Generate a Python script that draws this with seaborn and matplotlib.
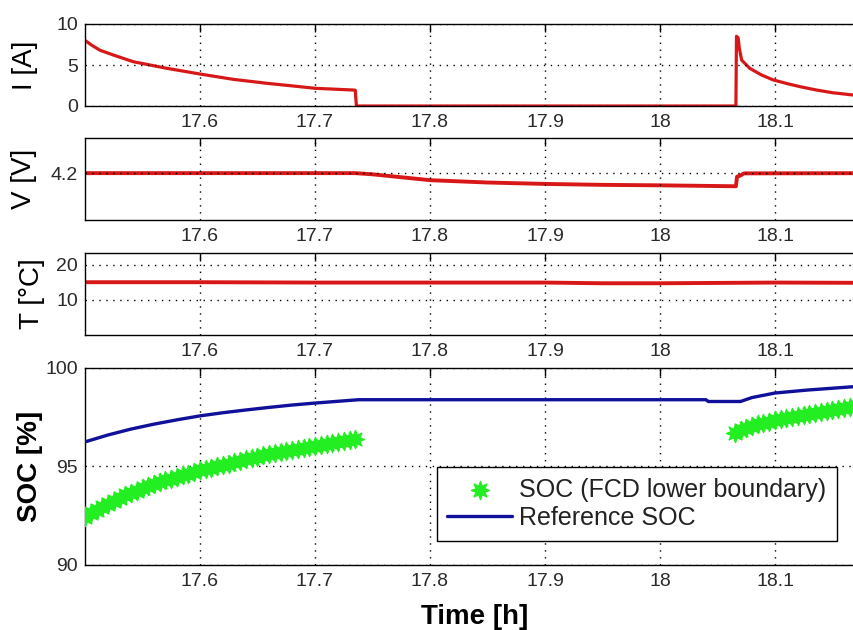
import matplotlib
matplotlib.use("Agg")
import matplotlib.pyplot as plt
import numpy as np
import pandas as pd
import seaborn as sns

# ---------------- data ----------------
time_I = [17.500, 17.506, 17.513, 17.525, 17.542, 17.571, 17.600, 17.629, 17.658,
          17.681, 17.700, 17.733, 17.735, 17.736, 18.066, 18.0665, 18.068, 18.069,
          18.071, 18.078, 18.088, 18.098, 18.110, 18.122, 18.136, 18.150, 18.168, 18.200]
current_A = [8.0, 7.4, 6.8, 6.2, 5.4, 4.6, 3.9, 3.25, 2.77,
             2.44, 2.16, 1.95, 1.93, 0.0, 0.0, 8.5, 8.3, 7.0,
             5.6, 4.6, 3.8, 3.2, 2.75, 2.35, 1.95, 1.62, 1.34, 1.05]

time_V = [17.500, 17.735, 17.750, 17.770, 17.800, 17.850, 17.900, 17.950, 18.000,
          18.066, 18.067, 18.070, 18.073, 18.200]
voltage_V = [4.200, 4.200, 4.195, 4.185, 4.170, 4.160, 4.154, 4.150, 4.148,
             4.144, 4.185, 4.190, 4.199, 4.200]

time_T = [17.50, 17.60, 17.70, 17.80, 17.90, 17.95, 18.00, 18.05, 18.10, 18.20]
temp_C = [15.0, 15.0, 14.9, 14.9, 14.9, 14.7, 14.7, 14.8, 14.9, 14.8]

time_ref = [17.500, 17.520, 17.540, 17.560, 17.580, 17.600, 17.620, 17.640, 17.660,
            17.680, 17.700, 17.720, 17.738, 18.040, 18.042, 18.070, 18.080, 18.100,
            18.128, 18.168, 18.200]
soc_ref = [96.25, 96.60, 96.90, 97.15, 97.37, 97.57, 97.73, 97.87, 98.00,
           98.12, 98.22, 98.31, 98.39, 98.39, 98.30, 98.30, 98.50, 98.73,
           98.88, 99.05, 99.15]

time_fcd = [17.500, 17.505, 17.510, 17.515, 17.520, 17.525, 17.530, 17.535, 17.540,
            17.545, 17.550, 17.555, 17.560, 17.565, 17.570, 17.575, 17.580, 17.585,
            17.590, 17.595, 17.600, 17.605, 17.610, 17.615, 17.620, 17.625, 17.630,
            17.635, 17.640, 17.645, 17.650, 17.655, 17.660, 17.665, 17.670, 17.675,
            17.680, 17.685, 17.690, 17.695, 17.700, 17.705, 17.710, 17.715, 17.720,
            17.725, 17.730, 17.735,
            18.065, 18.070, 18.075, 18.080, 18.085, 18.090, 18.095, 18.100, 18.105,
            18.110, 18.115, 18.120, 18.125, 18.130, 18.135, 18.140, 18.145, 18.150,
            18.155, 18.160, 18.165, 18.170, 18.175]
soc_fcd = [92.45, 92.62, 92.80, 92.96, 93.12, 93.27, 93.41, 93.54, 93.66,
           93.78, 93.89, 94.00, 94.10, 94.20, 94.30, 94.39, 94.48, 94.56,
           94.64, 94.72, 94.80, 94.87, 94.94, 95.01, 95.08, 95.15, 95.22,
           95.29, 95.36, 95.43, 95.50, 95.56, 95.62, 95.68, 95.74, 95.80,
           95.86, 95.91, 95.96, 96.01, 96.06, 96.11, 96.16, 96.21, 96.26,
           96.31, 96.36, 96.40,
           96.70, 96.84, 96.96, 97.06, 97.14, 97.21, 97.28, 97.34, 97.40,
           97.46, 97.52, 97.57, 97.62, 97.67, 97.72, 97.77, 97.82, 97.87,
           97.92, 97.97, 98.02, 98.06, 98.10]

x_ticks = [17.6, 17.7, 17.8, 17.9, 18.0, 18.1]
x_ticklabels = ["17.6", "17.7", "17.8", "17.9", "18", "18.1"]

# ---------------- style ----------------
sns.set_theme(style="white")
plt.rcParams["font.family"] = ["Liberation Sans", "DejaVu Sans"]

RED = "#d81818"
BLUE = "#10109a"
GREEN = "#22ee22"
TICK_COL = "#2a2a2a"

fig = plt.figure(figsize=(8.54, 6.30), dpi=100)
fig.patch.set_facecolor("white")

left = 85 / 854
width = 805 / 854
H = 630.0
panels = [  # (top px, bottom px)
    (24, 106), (138, 220), (253, 335), (368, 565)
]
axes = [fig.add_axes([left, (H - b) / H, width, (b - t) / H]) for t, b in panels]

df_I = pd.DataFrame({"t": time_I, "v": current_A})
df_V = pd.DataFrame({"t": time_V, "v": voltage_V})
df_T = pd.DataFrame({"t": time_T, "v": temp_C})
df_ref = pd.DataFrame({"t": time_ref, "v": soc_ref})
df_fcd = pd.DataFrame({"t": time_fcd, "v": soc_fcd})

sns.lineplot(data=df_I, x="t", y="v", ax=axes[0], color=RED, lw=2.3,
             estimator=None, sort=False)
sns.lineplot(data=df_V, x="t", y="v", ax=axes[1], color=RED, lw=2.8,
             estimator=None, sort=False)
sns.lineplot(data=df_T, x="t", y="v", ax=axes[2], color=RED, lw=2.8,
             estimator=None, sort=False)

ax4 = axes[3]
sns.scatterplot(data=df_fcd, x="t", y="v", ax=ax4, color=GREEN, marker=(8, 1, 0),
                s=170, edgecolor=GREEN, linewidth=1.0,
                label="SOC (FCD lower boundary)", zorder=3)
sns.lineplot(data=df_ref, x="t", y="v", ax=ax4, color=BLUE, lw=2.4,
             estimator=None, sort=False, label="Reference SOC", zorder=4)

ylims = [(0, 10), (4.0, 4.35), (0, 23.3), (90, 100)]
yticks = [[0, 5, 10], [4.2], [10, 20], [90, 95, 100]]
yticklabels = [["0", "5", "10"], ["4.2"], ["10", "20"], ["90", "95", "100"]]
ylabels = ["I [A]", "V [V]", "T [°C]", "SOC [%]"]
ylab_x = [-0.059, -0.060, -0.050, -0.052]

for i, ax in enumerate(axes):
    ax.set_facecolor("white")
    ax.set_xlim(17.5, 18.2)
    ax.set_ylim(*ylims[i])
    ax.set_xticks(x_ticks)
    ax.set_xticklabels(x_ticklabels)
    ax.set_yticks(yticks[i])
    ax.set_yticklabels(yticklabels[i])
    ax.grid(True, color="black", linestyle=(0, (1, 4)), linewidth=1.0)
    ax.set_axisbelow(False)
    for sp in ax.spines.values():
        sp.set_visible(True)
        sp.set_color("black")
        sp.set_linewidth(1.0)
    ax.tick_params(axis="both", direction="in", top=True, right=True,
                   length=6, width=1.0, color="black", labelcolor=TICK_COL,
                   labelsize=14)
    ax.tick_params(axis="x", pad=6)
    ax.tick_params(axis="y", pad=5)
    ax.set_xlabel("")
    ax.set_ylabel(ylabels[i], fontsize=20,
                  fontweight="bold" if i == 3 else "normal", color="black")
    ax.yaxis.set_label_coords(ylab_x[i], 0.5)

ax4.set_xlabel("Time [h]", fontsize=20, fontweight="bold", color="black")
ax4.xaxis.set_label_coords((475 - 85) / 805, -0.20)

handles, labels = ax4.get_legend_handles_labels()
leg = ax4.legend(handles, labels, loc="upper left",
                 bbox_to_anchor=(0.437, 0.497), fontsize=18,
                 frameon=True, fancybox=False, framealpha=1.0,
                 edgecolor="black", handlelength=2.6, handletextpad=0.28,
                 labelspacing=0.18, borderpad=0.42, borderaxespad=0.0,
                 markerscale=1.0)
leg.get_frame().set_linewidth(1.0)
for t in leg.get_texts():
    t.set_color("#222222")

fig.savefig("out.png", dpi=100, facecolor="white")
